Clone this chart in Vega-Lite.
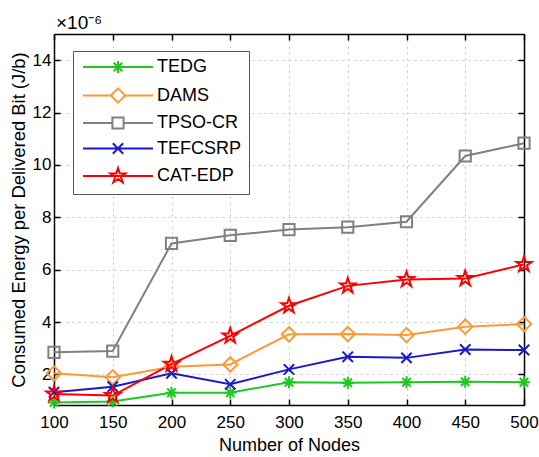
{
  "$schema": "https://vega.github.io/schema/vega-lite/v6.json",
  "width": 470,
  "height": 371,
  "autosize": "none",
  "padding": {"left": 54, "top": 34, "right": 15, "bottom": 52},
  "background": "white",
  "config": {
    "view": {"stroke": null},
    "font": "Liberation Sans"
  },
  "title": {
    "text": "×10⁻⁶",
    "anchor": "start",
    "frame": "group",
    "fontSize": 19,
    "fontWeight": "normal",
    "font": "Liberation Sans",
    "color": "black",
    "offset": 0,
    "dx": 2
  },
  "data": {
    "values": [
      {"n": 100, "series": "TEDG", "e": 0.93},
      {"n": 150, "series": "TEDG", "e": 0.96},
      {"n": 200, "series": "TEDG", "e": 1.30},
      {"n": 250, "series": "TEDG", "e": 1.30},
      {"n": 300, "series": "TEDG", "e": 1.70},
      {"n": 350, "series": "TEDG", "e": 1.68},
      {"n": 400, "series": "TEDG", "e": 1.70},
      {"n": 450, "series": "TEDG", "e": 1.72},
      {"n": 500, "series": "TEDG", "e": 1.70},
      {"n": 100, "series": "DAMS", "e": 2.04},
      {"n": 150, "series": "DAMS", "e": 1.89},
      {"n": 200, "series": "DAMS", "e": 2.29},
      {"n": 250, "series": "DAMS", "e": 2.38},
      {"n": 300, "series": "DAMS", "e": 3.53},
      {"n": 350, "series": "DAMS", "e": 3.54},
      {"n": 400, "series": "DAMS", "e": 3.50},
      {"n": 450, "series": "DAMS", "e": 3.82},
      {"n": 500, "series": "DAMS", "e": 3.92},
      {"n": 100, "series": "TPSO-CR", "e": 2.84},
      {"n": 150, "series": "TPSO-CR", "e": 2.89},
      {"n": 200, "series": "TPSO-CR", "e": 7.00},
      {"n": 250, "series": "TPSO-CR", "e": 7.31},
      {"n": 300, "series": "TPSO-CR", "e": 7.53},
      {"n": 350, "series": "TPSO-CR", "e": 7.62},
      {"n": 400, "series": "TPSO-CR", "e": 7.83},
      {"n": 450, "series": "TPSO-CR", "e": 10.34},
      {"n": 500, "series": "TPSO-CR", "e": 10.83},
      {"n": 100, "series": "TEFCSRP", "e": 1.32},
      {"n": 150, "series": "TEFCSRP", "e": 1.53},
      {"n": 200, "series": "TEFCSRP", "e": 2.04},
      {"n": 250, "series": "TEFCSRP", "e": 1.62},
      {"n": 300, "series": "TEFCSRP", "e": 2.19},
      {"n": 350, "series": "TEFCSRP", "e": 2.67},
      {"n": 400, "series": "TEFCSRP", "e": 2.63},
      {"n": 450, "series": "TEFCSRP", "e": 2.95},
      {"n": 500, "series": "TEFCSRP", "e": 2.93},
      {"n": 100, "series": "CAT-EDP", "e": 1.25},
      {"n": 150, "series": "CAT-EDP", "e": 1.19},
      {"n": 200, "series": "CAT-EDP", "e": 2.39},
      {"n": 250, "series": "CAT-EDP", "e": 3.47},
      {"n": 300, "series": "CAT-EDP", "e": 4.62},
      {"n": 350, "series": "CAT-EDP", "e": 5.38},
      {"n": 400, "series": "CAT-EDP", "e": 5.62},
      {"n": 450, "series": "CAT-EDP", "e": 5.66},
      {"n": 500, "series": "CAT-EDP", "e": 6.20}
    ]
  },
  "resolve": {"axis": {"x": "independent", "y": "independent"}, "scale": {"shape": "independent"}},
  "layer": [
    {
      "mark": {"type": "line", "strokeWidth": 2, "clip": false},
      "encoding": {
        "x": {
          "field": "n", "type": "quantitative",
          "scale": {"domain": [100, 500], "nice": false, "zero": false},
          "axis": {
            "orient": "bottom",
            "values": [100, 150, 200, 250, 300, 350, 400, 450, 500],
            "title": "Number of Nodes",
            "grid": true, "gridDash": [2, 4], "gridColor": "#c4c4c4", "gridWidth": 1,
            "domainColor": "black", "domainWidth": 1.5,
            "tickColor": "black", "tickSize": -6, "tickWidth": 1.5,
            "labelPadding": 15, "labelFontSize": 17, "labelFont": "Liberation Sans", "labelColor": "black",
            "labelFlush": false, "labelOverlap": false, "labelBound": false,
            "titleFontSize": 18, "titleFontWeight": "normal", "titleFont": "Liberation Sans", "titleColor": "black",
            "titlePadding": 6
          }
        },
        "y": {
          "field": "e", "type": "quantitative",
          "scale": {"domain": [0.83, 15], "nice": false, "zero": false},
          "axis": {
            "orient": "left",
            "values": [2, 4, 6, 8, 10, 12, 14],
            "title": "Consumed Energy per Delivered Bit (J/b)",
            "grid": true, "gridDash": [2, 4], "gridColor": "#c4c4c4", "gridWidth": 1,
            "domainColor": "black", "domainWidth": 1.5,
            "tickColor": "black", "tickSize": -6, "tickWidth": 1.5,
            "labelPadding": 9, "labelFontSize": 17, "labelFont": "Liberation Sans", "labelColor": "black",
            "labelFlush": false, "labelOverlap": false, "labelBound": false,
            "titleFontSize": 18.4, "titleFontWeight": "normal", "titleFont": "Liberation Sans", "titleColor": "black",
            "titlePadding": 4
          }
        },
        "color": {
          "field": "series", "type": "nominal",
          "scale": {
            "domain": ["TEDG", "DAMS", "TPSO-CR", "TEFCSRP", "CAT-EDP"],
            "range": ["#1ec81e", "#ff9933", "#808080", "#1a1acc", "#ff0000"]
          },
          "legend": {
            "orient": "none",
            "legendX": 19,
            "legendY": 17,
            "direction": "vertical",
            "title": null,
            "padding": 7,
            "fillColor": "white",
            "strokeColor": "#555555",
            "cornerRadius": 0,
            "labelFontSize": 18,
            "labelFont": "Liberation Sans",
            "labelColor": "black",
            "labelLimit": 300,
            "symbolSize": 196,
            "symbolStrokeWidth": 2,
            "symbolOffset": 29,
            "labelOffset": 30,
            "rowPadding": 5.5,
            "encode": {
              "symbols": {
                "update": {
                  "shape": {"signal": "['M-5,0H5M-0.86,0H0.86M0,-0.86V0.86M-0.61,-0.61L0.61,0.61M-0.61,0.61L0.61,-0.61','M-5,0H-1.03M1.03,0H5M-1.03,0L0,-1.03L1.03,0L0,1.03Z','M-5,0H-0.8M0.8,0H5M-0.8,-0.8H0.8V0.8H-0.8Z','M-5,0H5M-0.74,-0.74L0.74,0.74M-0.74,0.74L0.74,-0.74','M-5,0H5M0,-1.14L0.256,-0.352L1.084,-0.352L0.414,0.135L0.67,0.922L0,0.435L-0.67,0.922L-0.414,0.135L-1.084,-0.352L-0.256,-0.352Z'][indexof(['TEDG','DAMS','TPSO-CR','TEFCSRP','CAT-EDP'], datum.value)]"},
                  "size": {"value": 196},
                  "fill": {"value": "transparent"},
                  "strokeWidth": {"value": 2},
                  "opacity": {"value": 1}
                }
              }
            }
          }
        }
      }
    },
    {
      "mark": {"type": "point", "filled": false, "strokeWidth": 2, "size": 256, "opacity": 1, "clip": false},
      "encoding": {
        "x": {
          "field": "n", "type": "quantitative",
          "axis": {
            "orient": "top",
            "values": [100, 150, 200, 250, 300, 350, 400, 450, 500],
            "title": null, "labels": false, "grid": false,
            "domainColor": "black", "domainWidth": 1.5,
            "tickColor": "black", "tickSize": -6, "tickWidth": 1.5
          }
        },
        "y": {
          "field": "e", "type": "quantitative",
          "axis": {
            "orient": "right",
            "values": [2, 4, 6, 8, 10, 12, 14],
            "title": null, "labels": false, "grid": false,
            "domainColor": "black", "domainWidth": 1.5,
            "tickColor": "black", "tickSize": -6, "tickWidth": 1.5
          }
        },
        "color": {
          "field": "series", "type": "nominal"
        },
        "shape": {
          "field": "series", "type": "nominal",
          "scale": {
            "domain": ["TEDG", "DAMS", "TPSO-CR", "TEFCSRP", "CAT-EDP"],
            "range": [
              "M-0.75,0H0.75M0,-0.75V0.75M-0.53,-0.53L0.53,0.53M-0.53,0.53L0.53,-0.53",
              "M-0.9,0L0,-0.9L0.9,0L0,0.9Z",
              "M-0.7,-0.7H0.7V0.7H-0.7Z",
              "M-0.65,-0.65L0.65,0.65M-0.65,0.65L0.65,-0.65",
              "M0,-1L0.2245,-0.309L0.951,-0.309L0.363,0.118L0.588,0.809L0,0.382L-0.588,0.809L-0.363,0.118L-0.951,-0.309L-0.2245,-0.309Z"
            ]
          },
          "legend": null
        }
      }
    }
  ]
}
